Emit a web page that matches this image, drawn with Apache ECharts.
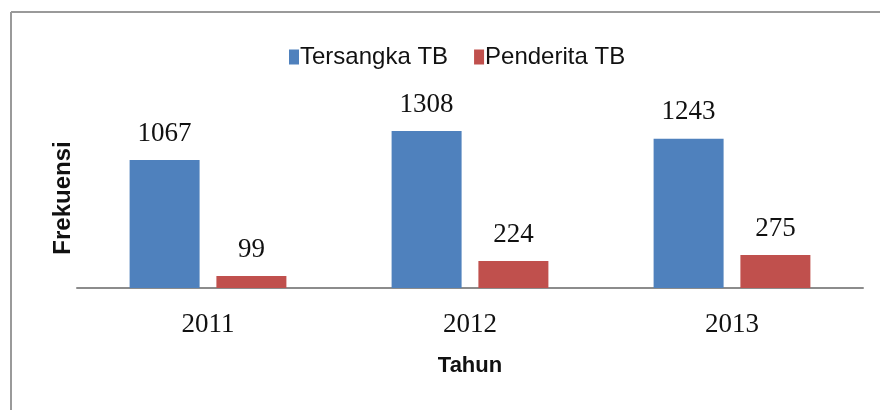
<!DOCTYPE html>
<html>
<head>
<meta charset="utf-8">
<script src="https://cdn.jsdelivr.net/npm/echarts@6/dist/echarts.min.js"></script>
<style>
  html, body { margin: 0; padding: 0; background: #fff; }
  #chart { width: 880px; height: 410px; }
</style>
</head>
<body>
<div id="chart"></div>
<script>
// data
const years = ['2011', '2012', '2013'];
const tersangka = [1067, 1308, 1243];
const penderita = [99, 224, 275];
const seriesNames = ['Tersangka TB', 'Penderita TB'];

const labelFont = { fontFamily: 'Liberation Serif', fontSize: 27, color: '#111' };

let myChart = echarts.init(document.getElementById('chart'));
let option = {
  backgroundColor: '#fff',
  animation: false,
  // thin frame, only top + left visible in the picture
  graphic: [
    { type: 'line', shape: { x1: 11, y1: 12, x2: 880, y2: 12 }, style: { stroke: '#9a9a9a', lineWidth: 2 } },
    { type: 'line', shape: { x1: 11, y1: 12, x2: 11, y2: 410 }, style: { stroke: '#9a9a9a', lineWidth: 2 } }
  ],
  legend: {
    data: seriesNames,
    left: 284,
    top: 40,
    icon: 'rect',
    itemWidth: 10,
    itemHeight: 15,
    itemGap: 26,
    textStyle: { fontFamily: 'Liberation Sans', fontSize: 24, color: '#111', padding: [0, 0, 0, -4] }
  },
  grid: { left: 77, right: 17, top: 108, bottom: 122 },
  xAxis: {
    type: 'category',
    data: years,
    name: 'Tahun',
    nameLocation: 'middle',
    nameGap: 67,
    nameTextStyle: { fontFamily: 'Liberation Sans', fontWeight: 'bold', fontSize: 22, color: '#111' },
    axisLine: { lineStyle: { color: '#8c8c8c', width: 2 } },
    axisTick: { show: false },
    axisLabel: Object.assign({ margin: 23 }, labelFont)
  },
  yAxis: {
    type: 'value',
    min: 0,
    max: 1500,
    name: 'Frekuensi',
    nameLocation: 'middle',
    nameRotate: 90,
    nameGap: 2,
    nameTextStyle: { fontFamily: 'Liberation Sans', fontWeight: 'bold', fontSize: 24, color: '#111' },
    axisLine: { show: false },
    axisTick: { show: false },
    axisLabel: { show: false },
    splitLine: { show: false }
  },
  series: [
    {
      name: seriesNames[0],
      type: 'bar',
      data: tersangka,
      barWidth: 70,
      barGap: '24%',
      itemStyle: { color: '#4f81bd' },
      label: Object.assign({ show: true, position: 'top', distance: 13 }, labelFont)
    },
    {
      name: seriesNames[1],
      type: 'bar',
      data: penderita,
      barWidth: 70,
      itemStyle: { color: '#c0504d' },
      label: Object.assign({ show: true, position: 'top', distance: 13 }, labelFont)
    }
  ]
};
myChart.setOption(option);
window.addEventListener('resize', function () {
  myChart.resize()
})
</script>
</body>
</html>
